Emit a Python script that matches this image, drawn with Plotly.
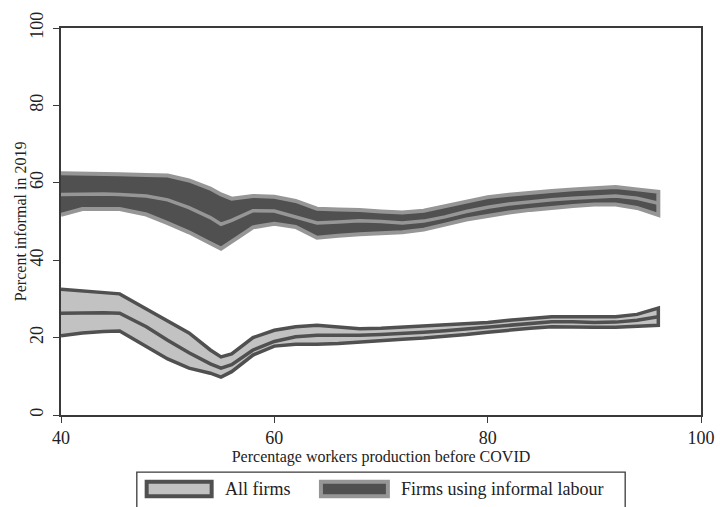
import plotly.graph_objects as go

# Share of workers in production before COVID (x) and percent informal in 2019
x_grid = [40, 42, 44, 45.5, 48, 50, 52, 54, 55, 56, 58, 60, 62, 64, 66, 68,
          70, 72, 74, 76, 78, 80, 82, 84, 86, 88, 90, 92, 94, 96]

# All firms: fitted value with confidence band
all_upper = [32.5, 32.0, 31.6, 31.3, 27.4, 24.2, 21.2, 16.8, 15.0, 15.8, 20.0, 21.9,
             22.8, 23.2, 22.8, 22.3, 22.4, 22.7, 22.9, 23.1, 23.4, 23.9, 24.5, 25.0,
             25.4, 25.4, 25.3, 25.4, 26.0, 27.6]
all_mid = [26.3, 26.4, 26.4, 26.3, 22.8, 19.3, 16.1, 13.2, 12.1, 13.0, 16.8, 19.0,
           20.2, 20.6, 20.5, 20.6, 20.8, 21.0, 21.4, 21.8, 22.3, 22.8, 23.3, 23.7,
           24.1, 24.1, 23.9, 24.0, 24.5, 25.4]
all_lower = [20.5, 21.2, 21.6, 21.7, 17.8, 14.5, 12.1, 10.8, 9.8, 11.2, 15.5, 17.8,
             18.3, 18.3, 18.5, 18.8, 19.2, 19.6, 19.9, 20.3, 20.8, 21.4, 22.0, 22.4,
             22.8, 22.8, 22.7, 22.7, 22.9, 23.2]

# Firms using informal labour: fitted value with confidence band
inf_upper = [62.5, 62.3, 62.3, 62.2, 62.0, 61.9, 60.6, 58.5, 57.0, 55.9, 56.6, 56.4,
             55.3, 53.3, 53.1, 53.0, 52.6, 52.3, 52.8, 53.9, 55.2, 56.3, 56.9, 57.5,
             57.9, 58.3, 58.7, 58.9, 58.3, 57.7]
inf_mid = [57.0, 57.1, 57.1, 57.0, 56.6, 55.6, 53.6, 51.0, 49.3, 50.3, 52.8, 52.7,
           51.2, 49.6, 49.9, 50.2, 50.0, 49.6, 50.1, 51.2, 52.6, 53.7, 54.5, 55.1,
           55.6, 56.0, 56.4, 56.6, 56.0, 54.7]
inf_lower = [51.7, 53.2, 53.3, 53.2, 51.8, 49.6, 47.2, 44.4, 43.0, 45.0, 48.5, 49.4,
             48.6, 45.8, 46.3, 46.7, 47.0, 47.2, 47.9, 49.2, 50.5, 51.5, 52.3, 53.0,
             53.6, 54.0, 54.4, 54.4, 53.5, 51.7]

legend_labels = ["All firms", "Firms using informal labour"]
x_ticks = [40, 60, 80, 100]
y_ticks = [0, 20, 40, 60, 80, 100]

DARK = "#505050"
LIGHT = "#c2c2c2"
MIDGREY = "#969696"
FONT = "Liberation Serif"

W, H = 727, 507
ML, MR, MT, MB = 61, 16, 15, 92


def band(xs, lo, hi, fill, edge, width):
    return go.Scatter(
        x=list(xs) + list(xs[::-1]),
        y=list(hi) + list(lo[::-1]),
        fill="toself", fillcolor=fill,
        mode="lines", line=dict(color=edge, width=width),
        hoverinfo="skip", showlegend=False,
    )


def centre(xs, ys, color, width):
    return go.Scatter(x=xs, y=ys, mode="lines",
                      line=dict(color=color, width=width),
                      showlegend=False)


fig = go.Figure()
fig.add_trace(band(x_grid, inf_lower, inf_upper, DARK, MIDGREY, 4))
fig.add_trace(centre(x_grid, inf_mid, MIDGREY, 3.5))
fig.add_trace(band(x_grid, all_lower, all_upper, LIGHT, DARK, 3.5))
fig.add_trace(centre(x_grid, all_mid, DARK, 3.5))

axis_common = dict(
    showgrid=False, zeroline=False, showline=True, mirror=True,
    linecolor="#3a3a3a", linewidth=1.5,
    ticks="outside", ticklen=6, tickwidth=1.3, tickcolor="#3a3a3a",
    tickfont=dict(family=FONT, size=18, color="#222"),
    ticklabeloverflow="allow",
)

fig.update_xaxes(range=[40, 100], tickvals=x_ticks,
                 title=dict(text="Percentage workers production before COVID", standoff=2,
                            font=dict(family=FONT, size=16, color="#222")),
                 **axis_common)
fig.update_yaxes(range=[0, 100], tickvals=y_ticks, tickangle=-90,
                 ticklabelstandoff=3, **axis_common)


# Legend box and y title placed below/left of the plot, in pixels
def px_x(p):
    return (p - ML) / (W - ML - MR)


def px_y(p):
    return (H - MB - p) / (H - MT - MB)


shapes = [
    dict(type="rect", xref="paper", yref="paper",
         x0=px_x(138), x1=px_x(634), y0=px_y(530), y1=px_y(474),
         line=dict(color="#3a3a3a", width=1.3), fillcolor="white", layer="above"),
    dict(type="rect", xref="paper", yref="paper",
         x0=px_x(148), x1=px_x(214), y0=px_y(499), y1=px_y(484),
         line=dict(color=DARK, width=4), fillcolor=LIGHT),
    dict(type="rect", xref="paper", yref="paper",
         x0=px_x(325), x1=px_x(393), y0=px_y(499), y1=px_y(484),
         line=dict(color=MIDGREY, width=4), fillcolor=DARK),
]
annotations = [
    dict(text=legend_labels[0], xref="paper", yref="paper",
         x=px_x(226), y=px_y(491), xanchor="left", yanchor="middle",
         showarrow=False, font=dict(family=FONT, size=18, color="#222")),
    dict(text=legend_labels[1], xref="paper", yref="paper",
         x=px_x(404), y=px_y(491), xanchor="left", yanchor="middle",
         showarrow=False, font=dict(family=FONT, size=18, color="#222")),
    dict(text="Percent informal in 2019", xref="paper", yref="paper",
         x=px_x(20), y=px_y(215), xanchor="center", yanchor="middle",
         textangle=-90, showarrow=False,
         font=dict(family=FONT, size=16, color="#222")),
]

fig.update_layout(
    width=W, height=H,
    margin=dict(l=ML, r=MR, t=MT, b=MB),
    plot_bgcolor="white", paper_bgcolor="white",
    showlegend=False,
    shapes=shapes, annotations=annotations,
)

fig.write_html("out.html")
